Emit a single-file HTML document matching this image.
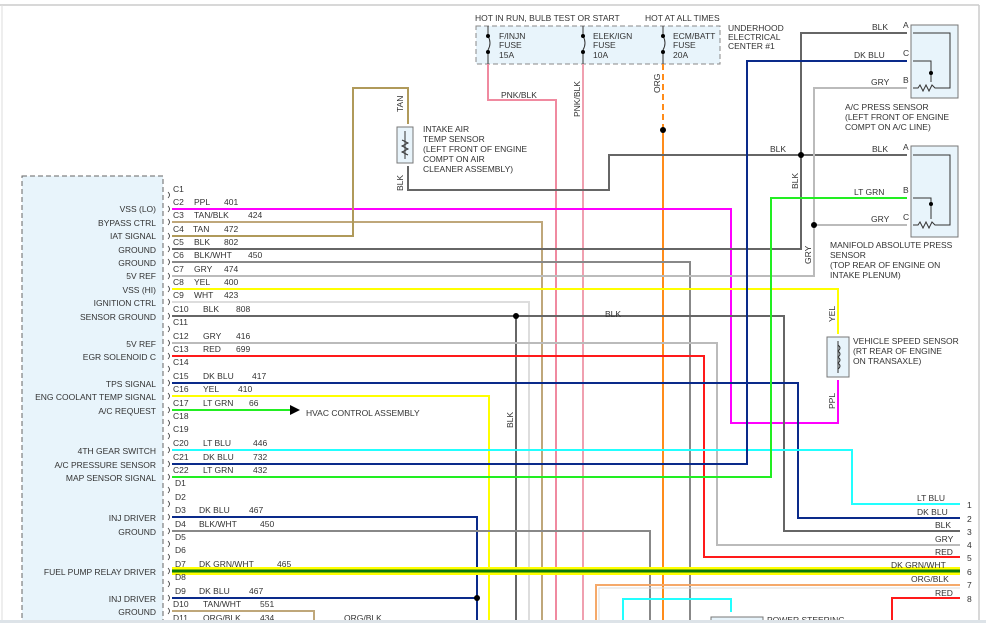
<!DOCTYPE html>
<html><head><meta charset="utf-8"><style>
html,body{margin:0;padding:0;background:#fff;}
svg{display:block;font-family:"Liberation Sans",sans-serif;}
text{font-size:8.5px;fill:#333;}
</style></head><body>
<svg width="986" height="623" viewBox="0 0 986 623" xmlns="http://www.w3.org/2000/svg">
<rect x="0" y="0" width="986" height="623" fill="#fff"/>
<line x1="0" y1="5" x2="979" y2="5" stroke="#ccc" stroke-width="1.5"/>
<line x1="979" y1="5" x2="979" y2="623" stroke="#ccc" stroke-width="1.5"/>
<line x1="2" y1="5" x2="2" y2="623" stroke="#ddd" stroke-width="1"/>

<!-- left ECM box -->
<rect x="22" y="176" width="141" height="460" fill="#e8f4fb" stroke="#666" stroke-dasharray="5,3"/>

<!-- fuse box -->
<rect x="476" y="26" width="244" height="38" fill="#e8f4fb" stroke="#888" stroke-dasharray="5,3"/>
<text x="475" y="21">HOT IN RUN, BULB TEST OR START</text>
<text x="645" y="21">HOT AT ALL TIMES</text>
<text x="728" y="31">UNDERHOOD</text><text x="728" y="40">ELECTRICAL</text><text x="728" y="49">CENTER #1</text>
<g stroke="#333" fill="none">
<path d="M488 26 V36 M488 50 V64 M488 36 q4 7 0 14"/>
<path d="M583 26 V36 M583 50 V64 M583 36 q4 7 0 14"/>
<path d="M663 26 V36 M663 50 V64 M663 36 q4 7 0 14"/>
</g>
<g fill="#000"><circle cx="488" cy="36" r="2"/><circle cx="488" cy="52" r="2"/><circle cx="583" cy="36" r="2"/><circle cx="583" cy="52" r="2"/><circle cx="663" cy="36" r="2"/><circle cx="663" cy="52" r="2"/></g>
<text x="499" y="39">F/INJN</text><text x="499" y="48">FUSE</text><text x="499" y="58">15A</text>
<text x="593" y="39">ELEK/IGN</text><text x="593" y="48">FUSE</text><text x="593" y="58">10A</text>
<text x="673" y="39">ECM/BATT</text><text x="673" y="48">FUSE</text><text x="673" y="58">20A</text>

<!-- sensors -->
<rect x="911" y="25" width="47" height="73" fill="#e8f4fb" stroke="#777"/>
<rect x="911" y="146" width="47" height="91" fill="#e8f4fb" stroke="#777"/>
<rect x="397" y="127" width="16" height="36" fill="#e8f4fb" stroke="#777"/>
<rect x="827" y="337" width="22" height="40" fill="#e8f4fb" stroke="#777"/>

<g fill="none" stroke-width="2">
<!-- pink -->
<path d="M488 64 V100 H556 V623" stroke="#f08aa0"/>
<path d="M583 64 V623" stroke="#f0a0b0"/>
<!-- orange -->
<path d="M663 64 V130" stroke="#ff8c1a" stroke-dasharray="6,4"/>
<path d="M663 130 V623" stroke="#ff8c1a"/>
<!-- C2 PPL -->
<path d="M172 209 H731 V423 H838 V380" stroke="#ff00ff"/>
<!-- C3 TAN/BLK -->
<path d="M172 222 H542 V623" stroke="#bfa77a"/>
<!-- C4 TAN -->
<path d="M172 236 H353 V88 H408 V124" stroke="#b09a5a"/>
<!-- IAT BLK -->
<path d="M408 166 V190 H609 V155 H907" stroke="#666"/>
<!-- C5 BLK -->
<path d="M172 249 H801 V33 H907" stroke="#666"/>
<!-- C6 BLK/WHT -->
<path d="M172 262 H690 V623" stroke="#888"/>
<!-- C7 GRY -->
<path d="M172 276 H814 V88 H907 M814 225 H907" stroke="#bbb"/>
<!-- C8 YEL -->
<path d="M172 289 H838 V334" stroke="#ffff00"/>
<!-- C9 WHT -->
<path d="M172 302 H529 V623" stroke="#ddd"/>
<!-- C10 BLK -->
<path d="M172 316 H784 V531 H960 M516 316 V623" stroke="#666"/>
<!-- C12 GRY -->
<path d="M172 343 H717 V545 H960" stroke="#bbb"/>
<!-- C13 RED -->
<path d="M172 356 H704 V557 H960" stroke="#ff1a1a"/>
<!-- C15 DK BLU -->
<path d="M172 383 H798 V518 H960" stroke="#0a2a8a"/>
<!-- C16 YEL -->
<path d="M172 396 H489 V623" stroke="#ffff00"/>
<!-- C17 LT GRN -->
<path d="M172 410 H292" stroke="#22ee22"/>
<!-- C20 LT BLU -->
<path d="M172 450 H852 V504 H960" stroke="#22ffff"/>
<!-- C21 DK BLU -->
<path d="M172 464 H747 V61 H907" stroke="#0a2a8a"/>
<!-- C22 LT GRN -->
<path d="M172 477 H771 V198 H907" stroke="#22ee22"/>
<!-- D3 DK BLU -->
<path d="M172 517 H477 V623" stroke="#0a2a8a"/>
<!-- D4 BLK/WHT -->
<path d="M172 531 H650 V623" stroke="#888"/>
<!-- D9 -->
<path d="M172 598 H477" stroke="#0a2a8a"/>
<!-- D10 -->
<path d="M172 611 H314 V623" stroke="#bfa77a"/>
<!-- ORG/BLK pin 7 -->
<path d="M596 623 V585 H960" stroke="#f5a96a"/>
<path d="M599 623 V588 H960" stroke="#ddd" stroke-width="1"/>
<!-- cyan -->
<path d="M623 623 V599 H731 V612" stroke="#22ffff"/>
<!-- RED pin 8 -->
<path d="M892 623 V598 H960" stroke="#ff1a1a"/>
</g>
<!-- D7 thick -->
<line x1="172" y1="571" x2="960" y2="571" stroke="#ffff00" stroke-width="8"/>
<line x1="172" y1="571" x2="960" y2="571" stroke="#0a7a0a" stroke-width="3"/>

<!-- arrow -->
<polygon points="290,405 300,410 290,415" fill="#000"/>
<text x="306" y="416">HVAC CONTROL ASSEMBLY</text>

<!-- junction dots -->
<g fill="#000">
<circle cx="663" cy="130" r="3"/><circle cx="801" cy="155" r="3"/><circle cx="814" cy="225" r="3"/>
<circle cx="516" cy="316" r="3"/><circle cx="477" cy="598" r="3"/>
</g>

<!-- sensor internals -->
<g fill="none" stroke="#333" stroke-width="1">
<path d="M913 33 H950 V88 H935"/>
<path d="M913 61 H931 V82"/>
<path d="M913 88 l5 0 l2 -3 l3 6 l3 -6 l3 6 l3 -6 l3 3 h3"/>
<path d="M913 155 H950 V225 H935"/>
<path d="M913 198 H931 V219"/>
<path d="M913 225 l5 0 l2 -3 l3 6 l3 -6 l3 6 l3 -6 l3 3 h3"/>
<path d="M405 131 V159 M402 140 l6 3 l-6 3 l6 3 l-6 3 l6 3"/>
<path d="M838 341 V373 M838 345 q4 3 0 6 q4 3 0 6 q4 3 0 6 q4 3 0 6"/>
</g>
<g fill="#000"><circle cx="931" cy="73" r="2"/><circle cx="931" cy="204" r="2"/></g>

<!-- sensor texts -->
<text x="872" y="30">BLK</text><text x="903" y="28" font-size="7">A</text>
<text x="854" y="58">DK BLU</text><text x="903" y="56" font-size="7">C</text>
<text x="871" y="85">GRY</text><text x="903" y="83" font-size="7">B</text>
<text x="845" y="110">A/C PRESS SENSOR</text><text x="845" y="120">(LEFT FRONT OF ENGINE</text><text x="845" y="130">COMPT ON A/C LINE)</text>
<text x="770" y="152">BLK</text><text x="872" y="152">BLK</text><text x="903" y="150" font-size="7">A</text>
<text x="854" y="195">LT GRN</text><text x="903" y="193" font-size="7">B</text>
<text x="871" y="222">GRY</text><text x="903" y="220" font-size="7">C</text>
<text x="830" y="248">MANIFOLD ABSOLUTE PRESS</text><text x="830" y="258">SENSOR</text><text x="830" y="268">(TOP REAR OF ENGINE ON</text><text x="830" y="278">INTAKE PLENUM)</text>
<text x="423" y="132">INTAKE AIR</text><text x="423" y="142">TEMP SENSOR</text><text x="423" y="152">(LEFT FRONT OF ENGINE</text><text x="423" y="162">COMPT ON AIR</text><text x="423" y="172">CLEANER ASSEMBLY)</text>
<text x="853" y="344">VEHICLE SPEED SENSOR</text><text x="853" y="354">(RT REAR OF ENGINE</text><text x="853" y="364">ON TRANSAXLE)</text>
<text x="501" y="98">PNK/BLK</text>
<text x="605" y="317">BLK</text>
<text x="403" y="112" transform="rotate(-90 403 112)">TAN</text>
<text x="403" y="191" transform="rotate(-90 403 191)">BLK</text>
<text x="580" y="117" transform="rotate(-90 580 117)">PNK/BLK</text>
<text x="660" y="93" transform="rotate(-90 660 93)">ORG</text>
<text x="798" y="189" transform="rotate(-90 798 189)">BLK</text>
<text x="811" y="264" transform="rotate(-90 811 264)">GRY</text>
<text x="835" y="322" transform="rotate(-90 835 322)">YEL</text>
<text x="835" y="409" transform="rotate(-90 835 409)">PPL</text>
<text x="513" y="428" transform="rotate(-90 513 428)">BLK</text>

<!-- right pins -->
<text x="917" y="501">LT BLU</text><text x="967" y="508">1</text>
<text x="917" y="515">DK BLU</text><text x="967" y="522">2</text>
<text x="935" y="528">BLK</text><text x="967" y="535">3</text>
<text x="935" y="542">GRY</text><text x="967" y="548">4</text>
<text x="935" y="555">RED</text><text x="967" y="561">5</text>
<text x="891" y="568">DK GRN/WHT</text><text x="967" y="575">6</text>
<text x="911" y="582">ORG/BLK</text><text x="967" y="588">7</text>
<text x="935" y="596">RED</text><text x="967" y="602">8</text>

<!-- connector pins column -->
<g fill="none" stroke="#333" stroke-width="0.8">
<path d="M168 192 q3 3 0 6 M168 206 q3 3 0 6 M168 219 q3 3 0 6 M168 233 q3 3 0 6 M168 246 q3 3 0 6 M168 259 q3 3 0 6 M168 273 q3 3 0 6 M168 286 q3 3 0 6 M168 299 q3 3 0 6 M168 313 q3 3 0 6 M168 326 q3 3 0 6 M168 340 q3 3 0 6 M168 353 q3 3 0 6 M168 366 q3 3 0 6 M168 380 q3 3 0 6 M168 393 q3 3 0 6 M168 407 q3 3 0 6 M168 420 q3 3 0 6 M168 433 q3 3 0 6 M168 447 q3 3 0 6 M168 461 q3 3 0 6 M168 474 q3 3 0 6 M168 487 q3 3 0 6 M168 501 q3 3 0 6 M168 514 q3 3 0 6 M168 528 q3 3 0 6 M168 541 q3 3 0 6 M168 554 q3 3 0 6 M168 568 q3 3 0 6 M168 581 q3 3 0 6 M168 595 q3 3 0 6 M168 608 q3 3 0 6"/>
</g>
<g>
<text x="173" y="192">C1</text>
<text x="173" y="205">C2</text><text x="194" y="205">PPL</text><text x="224" y="205">401</text>
<text x="173" y="218">C3</text><text x="194" y="218">TAN/BLK</text><text x="248" y="218">424</text>
<text x="173" y="232">C4</text><text x="193" y="232">TAN</text><text x="224" y="232">472</text>
<text x="173" y="245">C5</text><text x="194" y="245">BLK</text><text x="224" y="245">802</text>
<text x="173" y="258">C6</text><text x="194" y="258">BLK/WHT</text><text x="248" y="258">450</text>
<text x="173" y="272">C7</text><text x="194" y="272">GRY</text><text x="224" y="272">474</text>
<text x="173" y="285">C8</text><text x="194" y="285">YEL</text><text x="224" y="285">400</text>
<text x="173" y="298">C9</text><text x="194" y="298">WHT</text><text x="224" y="298">423</text>
<text x="173" y="312">C10</text><text x="203" y="312">BLK</text><text x="236" y="312">808</text>
<text x="173" y="325">C11</text>
<text x="173" y="339">C12</text><text x="203" y="339">GRY</text><text x="236" y="339">416</text>
<text x="173" y="352">C13</text><text x="203" y="352">RED</text><text x="236" y="352">699</text>
<text x="173" y="365">C14</text>
<text x="173" y="379">C15</text><text x="203" y="379">DK BLU</text><text x="252" y="379">417</text>
<text x="173" y="392">C16</text><text x="203" y="392">YEL</text><text x="238" y="392">410</text>
<text x="173" y="406">C17</text><text x="203" y="406">LT GRN</text><text x="249" y="406">66</text>
<text x="173" y="419">C18</text>
<text x="173" y="432">C19</text>
<text x="173" y="446">C20</text><text x="203" y="446">LT BLU</text><text x="253" y="446">446</text>
<text x="173" y="460">C21</text><text x="203" y="460">DK BLU</text><text x="253" y="460">732</text>
<text x="173" y="473">C22</text><text x="203" y="473">LT GRN</text><text x="253" y="473">432</text>
<text x="175" y="486">D1</text>
<text x="175" y="500">D2</text>
<text x="175" y="513">D3</text><text x="199" y="513">DK BLU</text><text x="249" y="513">467</text>
<text x="175" y="527">D4</text><text x="199" y="527">BLK/WHT</text><text x="260" y="527">450</text>
<text x="175" y="540">D5</text>
<text x="175" y="553">D6</text>
<text x="175" y="567">D7</text><text x="199" y="567">DK GRN/WHT</text><text x="277" y="567">465</text>
<text x="175" y="580">D8</text>
<text x="175" y="594">D9</text><text x="199" y="594">DK BLU</text><text x="249" y="594">467</text>
<text x="173" y="607">D10</text><text x="203" y="607">TAN/WHT</text><text x="260" y="607">551</text>
<text x="173" y="621">D11</text><text x="203" y="621">ORG/BLK</text><text x="260" y="621">434</text>
<text x="344" y="621">ORG/BLK</text>
</g>
<g text-anchor="end">
<text x="156" y="212">VSS (LO)</text>
<text x="156" y="226">BYPASS CTRL</text>
<text x="156" y="239">IAT SIGNAL</text>
<text x="156" y="253">GROUND</text>
<text x="156" y="266">GROUND</text>
<text x="156" y="279">5V REF</text>
<text x="156" y="293">VSS (HI)</text>
<text x="156" y="306">IGNITION CTRL</text>
<text x="156" y="320">SENSOR GROUND</text>
<text x="156" y="347">5V REF</text>
<text x="156" y="360">EGR SOLENOID C</text>
<text x="156" y="387">TPS SIGNAL</text>
<text x="156" y="400">ENG COOLANT TEMP SIGNAL</text>
<text x="156" y="414">A/C REQUEST</text>
<text x="156" y="454">4TH GEAR SWITCH</text>
<text x="156" y="468">A/C PRESSURE SENSOR</text>
<text x="156" y="481">MAP SENSOR SIGNAL</text>
<text x="156" y="521">INJ DRIVER</text>
<text x="156" y="535">GROUND</text>
<text x="156" y="575">FUEL PUMP RELAY DRIVER</text>
<text x="156" y="602">INJ DRIVER</text>
<text x="156" y="615">GROUND</text>
</g>
<!-- power steering -->
<rect x="711" y="617" width="52" height="8" fill="#e8f4fb" stroke="#777"/>
<text x="767" y="623">POWER STEERING</text>
<!-- bottom strip -->
<rect x="0" y="620" width="986" height="3" fill="#dde3e8"/>
</svg>
</body></html>
